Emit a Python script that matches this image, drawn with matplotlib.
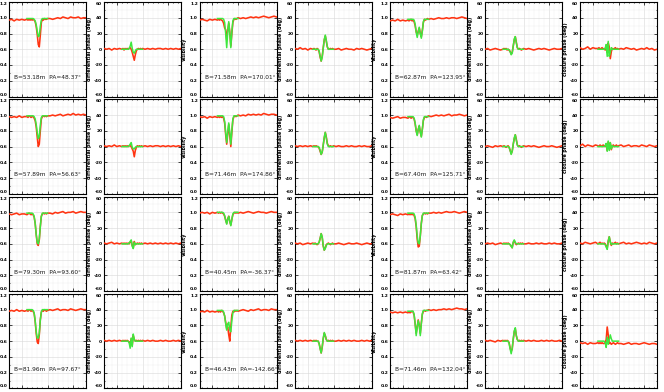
import numpy as np
import matplotlib
matplotlib.use("Agg")
import matplotlib.pyplot as plt
from matplotlib.ticker import MultipleLocator

# ---------------- wavelength grids (micron) ----------------
wl_red = np.concatenate([np.round(np.arange(2.155, 2.1615, 0.001), 4),
                         np.round(np.arange(2.1620, 2.17005, 0.0004), 4),
                         np.round(np.arange(2.171, 2.18505, 0.001), 4)])
wl_grn = np.round(np.arange(2.1620, 2.17005, 0.0004), 4)

# ---------------- row 1 ----------------
vis_r_11 = [0.97,0.98,0.96,0.98,0.97,0.98,0.97,
            0.98,0.97,0.98,0.97,0.98,0.97,0.98,0.97,0.95,0.89,0.79,0.66,0.63,0.78,0.94,0.98,0.97,0.99,0.98,0.98,0.99,
            0.99,0.98,0.99,1.00,0.99,1.01,1.00,0.99,1.01,1.00,1.00,1.01,0.99,1.00,1.00]
vis_g_11 = [0.99,0.99,0.99,0.99,0.99,0.99,0.99,0.98,0.96,0.91,0.83,0.76,0.77,0.89,0.97,0.99,0.99,0.99,0.99,0.99,0.99]
dp_r_12 = [1,0,1,-1,1,0,1,
           0,1,-1,1,0,1,0,1,2,0,-4,-9,-14,-7,-2,0,1,0,1,0,1,
           0,1,0,1,0,1,1,0,1,0,1,0,1,0,1]
dp_g_12 = [0,0,0,0,0,0,0,1,4,9,1,-4,-5,-2,0,0,0,0,0,0,0]
vis_r_13 = [0.97,0.98,0.97,0.96,0.98,0.97,0.98,
            0.97,0.98,0.97,0.98,0.97,0.96,0.93,0.87,0.85,0.72,0.84,0.93,0.82,0.64,0.80,0.94,0.98,0.99,0.98,0.99,1.00,
            0.99,1.00,0.99,1.00,1.01,1.00,1.01,1.00,1.01,1.02,1.01,1.00,1.01,1.02,1.01]
vis_g_13 = [0.99,0.99,0.99,0.99,0.99,0.99,0.98,0.94,0.80,0.62,0.82,0.95,0.80,0.62,0.82,0.96,0.99,0.99,0.99,0.99,0.99]
dp_r_14 = [1,0,2,0,1,-1,1,
           0,1,0,-1,1,0,-3,-10,-15,-9,2,12,17,10,3,0,0,1,0,1,0,
           0,1,-1,0,1,0,0,-1,1,0,1,0,-1,0,1]
dp_g_14 = [0,0,0,0,0,0,-2,-9,-15,-10,1,12,18,11,3,0,0,0,0,0,0]
vis_r_15 = [0.96,0.97,0.96,0.98,0.96,0.97,0.96,
            0.97,0.96,0.97,0.98,0.96,0.97,0.95,0.90,0.82,0.78,0.83,0.87,0.80,0.76,0.84,0.94,0.98,0.97,0.98,0.99,0.98,
            0.99,0.98,0.99,1.00,0.99,0.99,1.00,0.99,1.00,1.00,0.99,1.00,1.01,1.00,0.99]
vis_g_15 = [0.98,0.98,0.98,0.98,0.98,0.98,0.97,0.92,0.82,0.75,0.82,0.88,0.80,0.74,0.83,0.95,0.98,0.98,0.98,0.98,0.98]
dp_r_16 = [0,1,-1,0,1,0,-1,
           0,1,0,1,-1,0,-1,-3,-6,-4,4,12,16,9,2,0,1,0,-1,0,1,
           0,1,0,-1,0,1,0,1,0,-1,0,1,0,0,1]
dp_g_16 = [0,0,0,0,0,0,-1,-3,-7,-5,4,13,16,8,2,0,0,0,0,0,0]
cp_r_17 = [2,0,1,3,0,2,1,
           1,2,0,1,2,0,1,-1,2,-4,8,3,-12,-3,1,0,1,2,0,1,0,
           1,0,2,1,0,1,-1,0,1,0,2,0,1,-1,0]
cp_g_17 = [0,0,0,0,0,0,0,1,6,-9,10,-9,-4,2,0,0,0,0,0,0,0]

# ---------------- row 2 ----------------
vis_r_21 = [0.98,0.97,0.98,0.97,0.99,0.97,0.98,
            0.98,0.97,0.99,0.98,0.97,0.98,0.98,0.96,0.93,0.85,0.72,0.60,0.63,0.80,0.95,0.98,0.99,0.98,0.99,0.98,0.99,
            0.99,1.00,0.99,1.00,1.01,0.99,1.00,1.01,1.00,1.02,1.00,1.01,1.00,1.01,1.00]
vis_g_21 = [0.99,0.99,0.99,0.99,0.99,0.99,0.99,0.98,0.95,0.88,0.78,0.70,0.73,0.87,0.97,0.99,0.99,0.99,0.99,0.99,0.99]
dp_r_22 = [1,0,1,0,2,0,1,
           0,1,0,1,0,1,0,1,1,0,-3,-6,-13,-5,-1,1,0,1,0,1,0,
           1,0,1,0,1,1,0,1,0,1,0,1,0,1,0]
dp_g_22 = [0,0,0,0,0,0,0,1,3,5,-1,-3,-3,-1,0,0,0,0,0,0,0]
vis_r_23 = [0.98,0.97,0.98,0.96,0.98,0.97,0.98,
            0.97,0.98,0.97,0.98,0.97,0.98,0.96,0.90,0.75,0.63,0.76,0.88,0.74,0.60,0.78,0.94,0.98,0.99,0.98,0.99,1.00,
            0.99,1.00,0.99,1.01,1.00,1.01,1.00,1.01,1.00,1.02,1.01,1.00,1.01,1.01,1.00]
vis_g_23 = [0.99,0.99,0.99,0.99,0.99,0.99,0.98,0.92,0.78,0.65,0.78,0.90,0.78,0.63,0.80,0.95,0.99,0.99,0.99,0.99,0.99]
dp_r_24 = [1,0,1,0,1,0,1,
           0,1,0,1,0,0,-2,-6,-10,-7,2,11,18,12,4,1,0,1,0,0,1,
           0,1,0,0,1,0,1,0,0,1,0,1,0,0,1]
dp_g_24 = [0,0,0,0,0,0,-1,-5,-10,-7,2,12,18,11,3,0,0,0,0,0,0]
vis_r_25 = [0.97,0.96,0.97,0.98,0.96,0.97,0.97,
            0.96,0.97,0.98,0.96,0.97,0.97,0.95,0.89,0.80,0.75,0.82,0.86,0.78,0.73,0.82,0.93,0.97,0.98,0.97,0.98,0.99,
            0.98,0.99,1.00,0.99,1.00,0.99,1.00,1.01,0.99,1.00,1.00,1.01,1.00,0.99,1.00]
vis_g_25 = [0.98,0.98,0.98,0.98,0.98,0.98,0.96,0.90,0.80,0.74,0.81,0.87,0.79,0.72,0.82,0.94,0.98,0.98,0.98,0.98,0.98]
dp_r_26 = [0,1,0,-1,1,0,1,
           0,1,0,-1,0,1,-1,-5,-9,-6,3,10,15,9,2,0,1,0,-1,0,1,
           0,1,0,1,0,-1,0,1,0,0,1,0,-1,0,1]
dp_g_26 = [0,0,0,0,0,0,-1,-5,-10,-6,3,11,15,8,2,0,0,0,0,0,0]
cp_r_27 = [1,3,0,2,1,0,2,
           1,0,2,1,0,2,1,0,3,-5,6,-3,5,-4,1,2,0,1,2,0,1,
           2,0,1,2,0,1,1,0,2,1,0,2,1,0,1]
cp_g_27 = [0,0,0,0,0,0,0,1,4,-6,7,-5,5,-3,1,0,0,0,0,0,0]

# ---------------- row 3 ----------------
vis_r_31 = [0.98,0.97,0.98,0.99,0.97,0.98,0.98,
            0.97,0.98,0.99,0.98,0.97,0.98,0.97,0.94,0.86,0.72,0.60,0.58,0.65,0.82,0.95,0.98,0.99,0.98,0.99,0.98,0.99,
            0.99,0.98,1.00,0.99,1.00,1.01,0.99,1.00,1.00,1.01,0.99,1.00,1.01,1.00,1.00]
vis_g_31 = [0.99,0.99,0.99,0.99,0.99,0.99,0.98,0.95,0.86,0.72,0.62,0.60,0.66,0.82,0.95,0.99,0.99,0.99,0.99,0.99,0.99]
dp_r_32 = [1,0,1,2,0,1,0,
           1,0,1,0,1,0,1,0,2,4,-2,-5,3,-1,0,1,0,1,0,1,0,
           1,0,1,0,1,0,1,0,1,0,1,0,1,0,1]
dp_g_32 = [0,0,0,0,0,0,0,1,3,5,-3,-6,2,-1,0,0,0,0,0,0,0]
vis_r_33 = [0.99,1.00,0.99,1.00,0.98,1.00,0.99,
            1.00,0.99,1.00,0.99,1.00,0.99,0.98,0.95,0.90,0.86,0.92,0.95,0.88,0.84,0.91,0.97,0.99,1.00,0.99,1.00,0.99,
            1.00,0.99,1.00,1.01,1.00,0.99,1.00,1.01,1.00,1.00,0.99,1.00,1.01,1.00,1.00]
vis_g_33 = [1.00,1.00,1.00,1.00,1.00,1.00,0.99,0.96,0.90,0.85,0.91,0.95,0.89,0.83,0.91,0.98,1.00,1.00,1.00,1.00,1.00]
dp_r_34 = [1,0,1,-1,0,1,0,
           1,0,1,0,-1,0,2,7,13,8,-3,-8,-5,-1,0,1,0,-1,0,1,0,
           0,1,0,-1,0,1,0,0,1,0,-1,0,1,0,0]
dp_g_34 = [0,0,0,0,0,0,2,7,13,9,-2,-8,-6,-2,0,0,0,0,0,0,0]
vis_r_35 = [0.97,0.98,0.97,0.96,0.98,0.97,0.98,
            0.97,0.98,0.97,0.98,0.97,0.98,0.96,0.92,0.82,0.66,0.56,0.57,0.70,0.86,0.96,0.98,0.99,0.98,0.99,0.98,0.99,
            0.99,1.00,0.99,1.00,0.99,1.00,1.01,1.00,1.00,1.01,1.00,0.99,1.00,1.01,1.00]
vis_g_35 = [0.99,0.99,0.99,0.99,0.99,0.99,0.98,0.94,0.84,0.70,0.61,0.60,0.70,0.86,0.96,0.99,0.99,0.99,0.99,0.99,0.99]
dp_r_36 = [0,1,0,1,-1,0,1,
           0,1,0,1,0,1,0,-1,-3,-5,2,4,1,-1,0,1,0,1,0,1,0,
           0,1,0,0,1,0,1,0,0,1,0,1,0,0,1]
dp_g_36 = [0,0,0,0,0,0,0,-1,-3,-5,2,5,2,0,0,0,0,0,0,0,0]
cp_r_37 = [1,0,2,1,0,1,2,
           0,1,2,0,1,0,1,0,-3,-6,4,9,2,-2,1,0,1,2,0,1,0,
           1,2,0,1,0,1,2,1,0,1,0,2,1,0,1]
cp_g_37 = [0,0,0,0,0,0,0,-1,-4,-7,3,9,3,-1,0,0,0,0,0,0,0]

# ---------------- row 4 ----------------
vis_r_41 = [0.98,0.99,0.98,1.00,0.98,0.99,0.98,
            0.99,0.98,1.00,0.99,0.98,0.99,0.98,0.95,0.85,0.70,0.59,0.57,0.68,0.87,0.97,0.99,0.98,1.00,0.99,0.98,0.99,
            1.00,0.99,1.00,1.01,0.99,1.00,1.00,0.99,1.01,1.00,0.99,1.00,1.01,1.00,1.00]
vis_g_41 = [1.00,1.00,1.00,1.00,1.00,1.00,0.99,0.96,0.86,0.72,0.64,0.64,0.70,0.87,0.97,1.00,1.00,1.00,1.00,1.00,1.00]
dp_r_42 = [1,0,1,0,1,0,1,
           0,1,0,1,0,1,0,-1,-4,3,-5,7,2,0,1,0,1,0,1,0,1,
           0,1,0,1,0,0,1,0,1,0,0,1,0,1,0]
dp_g_42 = [0,0,0,0,0,0,0,-2,-9,4,-7,9,2,0,0,0,0,0,0,0,0]
vis_r_43 = [0.97,0.98,0.97,0.99,0.97,0.98,0.97,
            0.98,0.97,0.98,0.97,0.99,0.98,0.96,0.92,0.84,0.76,0.78,0.68,0.60,0.78,0.93,0.98,0.97,0.99,0.98,0.99,0.98,
            0.99,1.00,0.99,0.98,1.00,0.99,1.00,1.01,0.99,1.00,1.00,0.99,1.01,1.00,1.00]
vis_g_43 = [0.99,0.99,0.99,0.99,0.99,0.99,0.97,0.92,0.82,0.74,0.82,0.84,0.74,0.72,0.86,0.96,0.99,0.99,0.99,0.99,0.99]
dp_r_44 = [1,0,1,0,1,0,1,
           0,1,0,1,0,0,-3,-9,-15,-8,3,10,7,2,0,1,0,1,0,1,0,
           0,1,0,1,0,1,0,1,0,0,1,0,1,0,1]
dp_g_44 = [0,0,0,0,0,0,-3,-10,-15,-7,4,11,7,2,0,0,0,0,0,0,0]
vis_r_45 = [0.97,0.96,0.97,0.96,0.97,0.96,0.97,
            0.96,0.97,0.96,0.97,0.98,0.97,0.93,0.82,0.70,0.78,0.87,0.80,0.70,0.83,0.94,0.98,0.99,0.98,0.99,0.99,1.00,
            0.99,1.00,0.99,1.00,1.00,1.01,1.00,1.01,1.00,1.01,1.02,1.01,1.01,1.00,1.01]
vis_g_45 = [0.98,0.98,0.98,0.98,0.98,0.98,0.94,0.82,0.67,0.78,0.86,0.80,0.67,0.82,0.95,0.99,0.99,0.99,0.99,0.99,0.99]
dp_r_46 = [1,0,1,0,-1,1,0,
           1,0,1,0,1,0,-2,-9,-13,-10,2,12,16,7,2,0,1,0,1,0,1,
           0,1,0,1,0,0,1,0,1,0,1,0,0,1,0]
dp_g_46 = [0,0,0,0,0,0,-3,-10,-16,-9,3,13,17,7,2,0,0,0,0,0,0]
cp_r_47 = [-2,-3,-2,-4,-2,-3,-3,
           -2,-3,-2,-3,-2,-3,-3,-2,2,18,8,-3,-2,-4,-3,-2,-3,-4,-3,-2,-3,
           -3,-4,-3,-2,-4,-3,-3,-4,-3,-2,-3,-4,-3,-3,-4]
cp_g_47 = [0,0,0,0,0,0,0,-2,-8,5,-4,2,8,3,0,0,0,0,0,0,0]

labels_row1 = ["B=53.18m  PA=48.37°", "B=71.58m  PA=170.01°", "B=62.87m  PA=123.95°"]
labels_row2 = ["B=57.89m  PA=56.63°", "B=71.46m  PA=174.86°", "B=67.40m  PA=125.71°"]
labels_row3 = ["B=79.30m  PA=93.60°", "B=40.45m  PA=-36.37°", "B=81.87m  PA=63.42°"]
labels_row4 = ["B=81.96m  PA=97.67°", "B=46.43m  PA=-142.66°", "B=71.46m  PA=132.04°"]

vis_ticks = [0.0, 0.2, 0.4, 0.6, 0.8, 1.0, 1.2]
phase_ticks = [-60, -40, -20, 0, 20, 40, 60]

rows = [
    [(vis_r_11, vis_g_11), (dp_r_12, dp_g_12), (vis_r_13, vis_g_13), (dp_r_14, dp_g_14),
     (vis_r_15, vis_g_15), (dp_r_16, dp_g_16), (cp_r_17, cp_g_17)],
    [(vis_r_21, vis_g_21), (dp_r_22, dp_g_22), (vis_r_23, vis_g_23), (dp_r_24, dp_g_24),
     (vis_r_25, vis_g_25), (dp_r_26, dp_g_26), (cp_r_27, cp_g_27)],
    [(vis_r_31, vis_g_31), (dp_r_32, dp_g_32), (vis_r_33, vis_g_33), (dp_r_34, dp_g_34),
     (vis_r_35, vis_g_35), (dp_r_36, dp_g_36), (cp_r_37, cp_g_37)],
    [(vis_r_41, vis_g_41), (dp_r_42, dp_g_42), (vis_r_43, vis_g_43), (dp_r_44, dp_g_44),
     (vis_r_45, vis_g_45), (dp_r_46, dp_g_46), (cp_r_47, cp_g_47)],
]
row_labels = [labels_row1, labels_row2, labels_row3, labels_row4]

RED = "#ff3412"
GREEN = "#3ee83e"

W, H = 664, 392
fig = plt.figure(figsize=(W / 100, H / 100), dpi=100)
col_left = [9, 104, 199.5, 295, 390, 485, 580]
row_top = [2, 99.3, 196.6, 293.9]
pw, ph = 77, 94.5

for r in range(4):
    for c in range(7):
        ax = fig.add_axes([col_left[c] / W, 1 - (row_top[r] + ph) / H, pw / W, ph / H])
        red, grn = rows[r][c]
        ax.plot(wl_red, red, color=RED, lw=1.15, zorder=3)
        ax.plot(wl_grn, grn, color=GREEN, lw=1.1, zorder=4)
        ax.set_xlim(2.155, 2.185)
        ax.xaxis.set_major_locator(MultipleLocator(0.01))
        ax.xaxis.set_minor_locator(MultipleLocator(0.002))
        if c % 2 == 0 and c < 6:
            ax.set_ylim(0.0, 1.2)
            ax.set_yticks(vis_ticks)
            ax.set_yticklabels(["%.1f" % v for v in vis_ticks])
            ax.yaxis.set_minor_locator(MultipleLocator(0.1))
            if c > 0:
                ax.set_ylabel("Visibility", fontsize=3.4, fontweight="bold", labelpad=2.5)
            ax.text(0.07, 0.2, row_labels[r][c // 2], transform=ax.transAxes,
                    fontsize=4.2, va="center", ha="left", color="#1a1a1a")
        else:
            ax.set_ylim(-60, 60)
            ax.set_yticks(phase_ticks)
            ax.set_yticklabels(["%d" % v for v in phase_ticks])
            ax.yaxis.set_minor_locator(MultipleLocator(10))
            lab = "closure phase (deg)" if c == 6 else "differential phase (deg)"
            ax.set_ylabel(lab, fontsize=3.4, fontweight="bold", labelpad=1.5)
        ax.grid(which="major", color="#d8d8d8", lw=0.4, zorder=0)
        ax.grid(which="minor", color="#ececec", lw=0.3, zorder=0)
        ax.tick_params(which="both", direction="in", top=True, right=True,
                       labelbottom=False, labelsize=3.2, pad=1.2, width=0.5)
        ax.tick_params(which="major", length=2.0)
        ax.tick_params(which="minor", length=1.0)
        tl = ax.get_yticklabels()
        for t in tl:
            t.set_fontweight("bold")
        tl[0].set_va("bottom")
        tl[-1].set_va("top")
        for s in ax.spines.values():
            s.set_linewidth(0.8)

fig.savefig("out.png", dpi=100)
